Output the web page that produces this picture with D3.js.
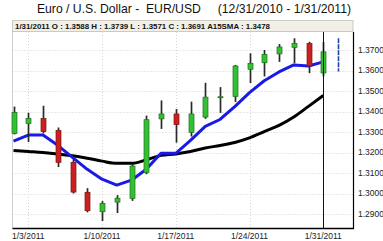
<!DOCTYPE html>
<html>
<head>
<meta charset="utf-8">
<script src="https://cdn.jsdelivr.net/npm/d3@7"></script>
<style>
  body { margin: 0; background: #fff; }
  svg { display: block; font-family: "Liberation Sans", Arial, sans-serif; }
</style>
</head>
<body>
<svg class="chart"></svg>
<script>
var width = 383,
    height = 241;

// trading days, 12/31/2010 .. 1/31/2011
var dates = ["12/31/2010", "1/3/2011", "1/4/2011", "1/5/2011", "1/6/2011", "1/7/2011",
             "1/10/2011", "1/11/2011", "1/12/2011", "1/13/2011", "1/14/2011",
             "1/17/2011", "1/18/2011", "1/19/2011", "1/20/2011", "1/21/2011",
             "1/24/2011", "1/25/2011", "1/26/2011", "1/27/2011", "1/28/2011", "1/31/2011"];
var open  = [1.3293, 1.3341, 1.3366, 1.3308, 1.3152, 1.3006, 1.2911, 1.2958, 1.2976, 1.3103, 1.3364,
             1.3388, 1.3298, 1.3373, 1.3470, 1.3474, 1.3606, 1.3638, 1.3681, 1.3713, 1.3732, 1.3588];
var high  = [1.3424, 1.3394, 1.3428, 1.3322, 1.3167, 1.3026, 1.2963, 1.2992, 1.3142, 1.3380, 1.3454,
             1.3412, 1.3448, 1.3540, 1.3519, 1.3627, 1.3684, 1.3700, 1.3729, 1.3757, 1.3740, 1.3739];
var low   = [1.3288, 1.3251, 1.3293, 1.3129, 1.3000, 1.2908, 1.2866, 1.2905, 1.2964, 1.3094, 1.3315,
             1.3248, 1.3278, 1.3364, 1.3393, 1.3446, 1.3539, 1.3571, 1.3642, 1.3635, 1.3587, 1.3571];
var close = [1.3395, 1.3366, 1.3302, 1.3152, 1.3007, 1.2916, 1.2952, 1.2977, 1.3134, 1.3360, 1.3388,
             1.3336, 1.3388, 1.3470, 1.3472, 1.3622, 1.3635, 1.3679, 1.3715, 1.3732, 1.3622, 1.3691];
// blue moving average and the 15 day SMA (black)
var maBlue = [1.3256, 1.3285, 1.3285, 1.3235, 1.3176, 1.3118, 1.3070, 1.3041, 1.3065, 1.3118, 1.3196,
              1.3196, 1.3259, 1.3327, 1.3361, 1.3424, 1.3492, 1.3550, 1.3593, 1.3627, 1.3622, 1.3642];
var sma15 = [1.3210, 1.3205, 1.3200, 1.3193, 1.3184, 1.3172, 1.3158, 1.3147, 1.3147, 1.3164, 1.3186,
             1.3193, 1.3205, 1.3222, 1.3234, 1.3249, 1.3271, 1.3302, 1.3332, 1.3373, 1.3425, 1.3478];
// next day projected range (blue dashed)
var nextRange = [1.3595, 1.3757];

var xTickLabels = ["1/3/2011", "1/10/2011", "1/17/2011", "1/24/2011", "1/31/2011"];
var yTicks = [1.29, 1.30, 1.31, 1.32, 1.33, 1.34, 1.35, 1.36, 1.37];

var plotLeft = 12.5, plotRight = 353, plotTop = 32, plotBottom = 228;

var x = d3.scaleLinear()
    .domain([0, 23])
    .range([13.5, 352.75]);

var y = d3.scaleLinear()
    .domain([1.29, 1.37])
    .range([214, 50]);

var chart = d3.select(".chart")
    .attr("width", width)
    .attr("height", height);

// title
chart.append("text")
    .attr("x", 194)
    .attr("y", 13)
    .attr("text-anchor", "middle")
    .style("font-size", "12.2px")
    .style("fill", "#111")
    .attr("xml:space", "preserve")
    .text("Euro / U.S. Dollar -  EUR/USD     (12/31/2010 - 1/31/2011)");

// grid
chart.append("g").selectAll("line")
    .data(yTicks)
  .enter().append("line")
    .attr("x1", plotLeft).attr("x2", plotRight)
    .attr("y1", function(d) { return Math.round(y(d)) + 0.5; })
    .attr("y2", function(d) { return Math.round(y(d)) + 0.5; })
    .attr("stroke", "#d4d4d4")
    .attr("stroke-dasharray", "1,2");

chart.append("g").selectAll("line")
    .data(xTickLabels)
  .enter().append("line")
    .attr("x1", function(d) { return Math.round(x(dates.indexOf(d))) + 0.5; })
    .attr("x2", function(d) { return Math.round(x(dates.indexOf(d))) + 0.5; })
    .attr("y1", plotTop).attr("y2", plotBottom)
    .attr("stroke", "#d4d4d4")
    .attr("stroke-dasharray", "1,2");

// frame
chart.append("line")
    .attr("x1", plotLeft).attr("x2", plotLeft)
    .attr("y1", plotTop).attr("y2", plotBottom)
    .attr("stroke", "#cfcfcf");

// info bar
chart.append("rect")
    .attr("x", plotLeft).attr("y", 20.5)
    .attr("width", plotRight - plotLeft).attr("height", 11)
    .attr("fill", "#f1efe6")
    .attr("stroke", "#cbc9c0");

var last = dates.length - 1;
chart.append("text")
    .attr("x", 15)
    .attr("y", 29)
    .style("font-size", "7.9px")
    .style("font-weight", "bold")
    .style("fill", "#111")
    .text(dates[last] + " O : " + open[last].toFixed(4) + " H : " + high[last].toFixed(4) +
          " L : " + low[last].toFixed(4) + " C : " + close[last].toFixed(4) +
          " A15SMA : " + sma15[last].toFixed(4));

// moving averages
var line = d3.line()
    .x(function(d, i) { return x(i); })
    .y(function(d) { return y(d); })
    .curve(d3.curveMonotoneX);

chart.append("path")
    .datum(sma15)
    .attr("d", line)
    .attr("fill", "none")
    .attr("stroke", "#000")
    .attr("stroke-width", 3);

chart.append("path")
    .datum(maBlue)
    .attr("d", d3.line().x(function(d, i) { return x(i); }).y(function(d) { return y(d); }))
    .attr("fill", "none")
    .attr("stroke", "#1a1ae6")
    .attr("stroke-width", 3)
    .attr("stroke-linejoin", "round");

// candles
var candle = chart.append("g").selectAll("g")
    .data(dates)
  .enter().append("g")
    .attr("transform", function(d, i) { return "translate(" + Math.round(x(i)) + ",0)"; });

candle.append("line")
    .attr("x1", 0.5).attr("x2", 0.5)
    .attr("y1", function(d, i) { return y(high[i]); })
    .attr("y2", function(d, i) { return y(low[i]); })
    .attr("stroke", "#2a2a2a")
    .attr("stroke-width", 1.7);

candle.append("rect")
    .attr("x", -2)
    .attr("width", 5)
    .attr("y", function(d, i) { return y(Math.max(open[i], close[i])); })
    .attr("height", function(d, i) { return Math.max(1, Math.abs(y(open[i]) - y(close[i]))); })
    .attr("fill", function(d, i) { return close[i] >= open[i] ? "#33c033" : "#cc2020"; })
    .attr("stroke", function(d, i) { return close[i] >= open[i] ? "#1f6f1f" : "#7a1414"; })
    .attr("stroke-width", 0.7);

// next day range
chart.append("line")
    .attr("x1", Math.round(x(last + 1)) + 0.5).attr("x2", Math.round(x(last + 1)) + 0.5)
    .attr("y1", y(nextRange[1])).attr("y2", y(nextRange[0]))
    .attr("stroke", "#23449c")
    .attr("stroke-width", 1.6)
    .attr("stroke-dasharray", "5,1");

// crosshair on last day
chart.append("line")
    .attr("x1", Math.round(x(last)) + 0.5).attr("x2", Math.round(x(last)) + 0.5)
    .attr("y1", plotTop).attr("y2", plotBottom)
    .attr("stroke", "#111")
    .attr("stroke-width", 1);

// axes
chart.append("line")
    .attr("x1", plotRight + 0.5).attr("x2", plotRight + 0.5)
    .attr("y1", plotTop).attr("y2", plotBottom + 1)
    .attr("stroke", "#000")
    .attr("stroke-width", 1.2);

chart.append("line")
    .attr("x1", plotLeft).attr("x2", plotRight + 1)
    .attr("y1", plotBottom + 0.5).attr("y2", plotBottom + 0.5)
    .attr("stroke", "#000")
    .attr("stroke-width", 1.6);

chart.append("g").selectAll("text")
    .data(yTicks)
  .enter().append("text")
    .attr("x", 358)
    .attr("y", function(d) { return y(d); })
    .attr("dy", ".35em")
    .style("font-size", "8.5px")
    .style("fill", "#222")
    .text(function(d) { return d.toFixed(4); });

chart.append("g").selectAll("text")
    .data(xTickLabels)
  .enter().append("text")
    .attr("x", function(d) { return x(dates.indexOf(d)); })
    .attr("y", 239)
    .attr("text-anchor", "middle")
    .style("font-size", "8.5px")
    .style("fill", "#222")
    .text(function(d) { return d; });
</script>
</body>
</html>
